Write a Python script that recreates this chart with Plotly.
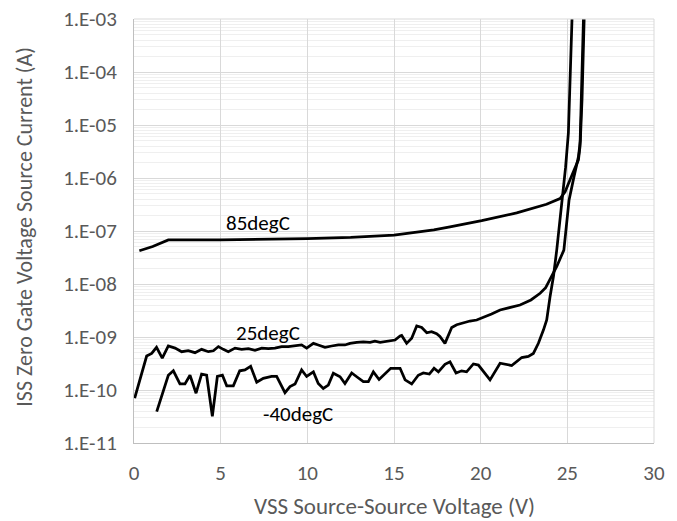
import math
import plotly.graph_objects as go

# ---- data ----
x_85 = [0.31, 1.08, 1.98, 5.0, 10.0, 12.5, 15.0, 17.3, 18.23, 20.06, 22.08, 23.8,
        24.58, 24.87, 25.3, 25.64, 25.73, 25.83, 25.93]
y_85 = [4.25e-8, 5.1e-8, 6.8e-8, 6.8e-8, 7.2e-8, 7.6e-8, 8.4e-8, 1.05e-7, 1.2e-7,
        1.57e-7, 2.2e-7, 3.2e-7, 4.1e-7, 5.5e-7, 1.2e-6, 2.2e-6, 3.9e-6, 6e-5, 1e-3]

x_25 = [0.04, 0.73, 1.02, 1.3, 1.63, 1.98, 2.37, 2.75, 3.13, 3.52, 3.9, 4.29, 4.58,
        4.87, 5.15, 5.44, 5.83, 6.21, 6.6, 6.98, 7.37, 7.75, 8.13, 8.52, 8.9, 9.29,
        9.67, 9.96, 10.35, 10.63, 11.02, 11.4, 11.79, 12.17, 12.46, 12.85, 13.23,
        13.62, 13.9, 14.2, 14.58, 15.06, 15.35, 15.44, 15.73, 16.02, 16.31, 16.6,
        16.89, 17.17, 17.46, 17.65, 17.94, 18.33, 18.62, 19.0, 19.38, 19.77, 20.15,
        20.63, 21.12, 21.7, 22.27, 22.9, 23.43, 23.75, 24.0, 24.39, 24.8, 25.1, 25.4,
        25.64, 25.75, 25.85, 25.97]
y_25 = [7e-11, 4.37e-10, 4.9e-10, 6.38e-10, 3.98e-10, 6.76e-10, 6.17e-10, 5.28e-10,
        5.5e-10, 5.06e-10, 5.85e-10, 5.28e-10, 5.5e-10, 6.6e-10, 5.85e-10, 5.28e-10,
        6.17e-10, 5.85e-10, 6.03e-10, 5.62e-10, 6.17e-10, 6.03e-10, 6.17e-10, 6.6e-10,
        6.6e-10, 6.76e-10, 7.08e-10, 6.17e-10, 7.59e-10, 7.08e-10, 6.38e-10, 6.76e-10,
        7.08e-10, 7.08e-10, 7.59e-10, 7.94e-10, 8.13e-10, 7.94e-10, 8.32e-10, 7.94e-10,
        8.32e-10, 8.77e-10, 1.05e-9, 1.07e-9, 7.59e-10, 9.44e-10, 1.62e-9, 1.51e-9,
        1.2e-9, 1.26e-9, 1.15e-9, 1.02e-9, 7.59e-10, 1.51e-9, 1.7e-9, 1.86e-9, 2.0e-9,
        2.09e-9, 2.34e-9, 2.72e-9, 3.24e-9, 3.63e-9, 4.02e-9, 5.0e-9, 6.67e-9, 8.5e-9,
        1.19e-8, 2.14e-8, 4.37e-8, 3.85e-7, 1.12e-6, 2.5e-6, 5e-6, 3.2e-5, 1e-3]

x_m40 = [1.31, 1.6, 1.98, 2.27, 2.65, 2.94, 3.23, 3.58, 3.9, 4.19, 4.52, 4.81, 5.1,
         5.35, 5.73, 6.1, 6.4, 6.73, 7.08, 7.46, 7.94, 8.23, 8.71, 9.0, 9.29, 9.67,
         9.96, 10.35, 10.63, 10.92, 11.21, 11.5, 11.89, 12.17, 12.56, 12.85, 13.23,
         13.52, 13.81, 14.14, 14.48, 14.81, 15.35, 15.64, 16.02, 16.4, 16.69, 17.04,
         17.31, 17.56, 17.94, 18.23, 18.58, 18.9, 19.19, 19.58, 19.87, 20.54, 21.12,
         21.79, 22.37, 22.75, 23.04, 23.33, 23.62, 23.81, 24.0, 24.2, 24.39, 24.58,
         24.68, 24.9, 25.06, 25.16, 25.27]
y_m40 = [3.9e-11, 8e-11, 1.9e-10, 2.3e-10, 1.3e-10, 1.3e-10, 1.9e-10, 8.7e-11, 2.0e-10,
         1.9e-10, 3.2e-11, 1.8e-10, 1.9e-10, 1.2e-10, 1.2e-10, 2.3e-10, 2.4e-10,
         2.8e-10, 1.4e-10, 1.66e-10, 1.8e-10, 1.8e-10, 8.9e-11, 1.16e-10, 1.3e-10,
         2.4e-10, 1.8e-10, 2.2e-10, 1.33e-10, 1.07e-10, 1.24e-10, 2.07e-10, 1.78e-10,
         1.33e-10, 2.1e-10, 1.78e-10, 1.44e-10, 1.44e-10, 2.2e-10, 1.58e-10, 2.07e-10,
         2.57e-10, 2.57e-10, 1.55e-10, 1.3e-10, 1.9e-10, 2.1e-10, 2.0e-10, 2.57e-10,
         2.2e-10, 3.05e-10, 3.4e-10, 2.1e-10, 2.3e-10, 2.2e-10, 3.1e-10, 2.95e-10,
         1.55e-10, 3.2e-10, 2.9e-10, 4.1e-10, 4.3e-10, 4.9e-10, 7.6e-10, 1.35e-9,
         2.1e-9, 5.7e-9, 1.4e-8, 4.4e-8, 1.6e-7, 3.8e-7, 1.6e-6, 7e-6, 1.26e-4, 1e-3]

series_names = ["85degC", "25degC", "-40degC"]
label_x = [7.17, 7.75, 9.46]
label_y = [1.41e-7, 1.17e-9, 3.6e-11]

y_tickvals = [1e-11, 1e-10, 1e-9, 1e-8, 1e-7, 1e-6, 1e-5, 1e-4, 1e-3]
y_ticktext = ["1.E-11", "1.E-10", "1.E-09", "1.E-08", "1.E-07", "1.E-06",
              "1.E-05", "1.E-04", "1.E-03"]
x_tickvals = [0, 5, 10, 15, 20, 25, 30]

x_title = "VSS Source-Source Voltage (V)"
y_title = "ISS Zero Gate Voltage Source Current (A)"

FONT = "Carlito, Lato, 'Open Sans', sans-serif"

fig = go.Figure()
for xs, ys, nm in [(x_85, y_85, series_names[0]), (x_25, y_25, series_names[1]),
                   (x_m40, y_m40, series_names[2])]:
    fig.add_trace(go.Scatter(x=xs, y=ys, mode="lines", name=nm,
                             line=dict(color="black", width=2.75),
                             showlegend=False, hoverinfo="skip"))

# annotations on a log axis take log10 positions
for t, lx, ly in zip(series_names, label_x, label_y):
    fig.add_annotation(x=lx, y=math.log10(ly), yref="y", xref="x", text=t,
                       showarrow=False,
                       font=dict(family=FONT, size=21, color="black"))

minor_vals = [k * 10.0 ** e for e in range(-11, -3) for k in range(2, 10)]

fig.update_layout(
    width=677, height=521,
    margin=dict(l=134, r=23, t=19, b=78, autoexpand=False),
    paper_bgcolor="white", plot_bgcolor="white",
    font=dict(family=FONT, size=21, color="#595959"),
    xaxis=dict(range=[0, 30], tickvals=x_tickvals, showgrid=True,
               gridcolor="#d9d9d9", gridwidth=1, showline=True,
               linecolor="#bfbfbf", linewidth=1, mirror=False, ticks="",
               zeroline=False, ticklabelstandoff=11, automargin=False,
               tickfont=dict(size=21, color="#595959")),
    yaxis=dict(type="log", range=[-11, -3], tickvals=y_tickvals,
               ticktext=y_ticktext, showgrid=True, gridcolor="#d9d9d9",
               gridwidth=1, showline=True, linecolor="#bfbfbf", linewidth=1,
               ticks="", zeroline=False, ticklabelstandoff=12, automargin=False,
               tickfont=dict(size=21, color="#595959"),
               minor=dict(tickvals=minor_vals, showgrid=True,
                          gridcolor="#efefef", gridwidth=1, ticks="")),
)

fig.add_shape(type="line", xref="paper", yref="paper", x0=0, x1=1, y0=1, y1=1,
              line=dict(color="#d9d9d9", width=1))
fig.add_shape(type="line", xref="paper", yref="paper", x0=1, x1=1, y0=0, y1=1,
              line=dict(color="#d9d9d9", width=1))

fig.add_annotation(xref="paper", yref="paper", x=0.5, y=-0.149, text=x_title,
                   showarrow=False, xanchor="center", yanchor="middle",
                   font=dict(family=FONT, size=23, color="#595959"))
fig.add_annotation(xref="paper", yref="paper", x=-0.2096, y=0.51, text=y_title,
                   textangle=-90, showarrow=False, xanchor="center",
                   yanchor="middle",
                   font=dict(family=FONT, size=22, color="#595959"))

# remove the default 8px page margin so the figure sits at the window's corner
fig.write_html(
    "out.html",
    config={"displayModeBar": False},
    post_script="document.body.style.margin='0';document.body.style.padding='0';"
                "document.body.style.overflow='hidden';",
)
